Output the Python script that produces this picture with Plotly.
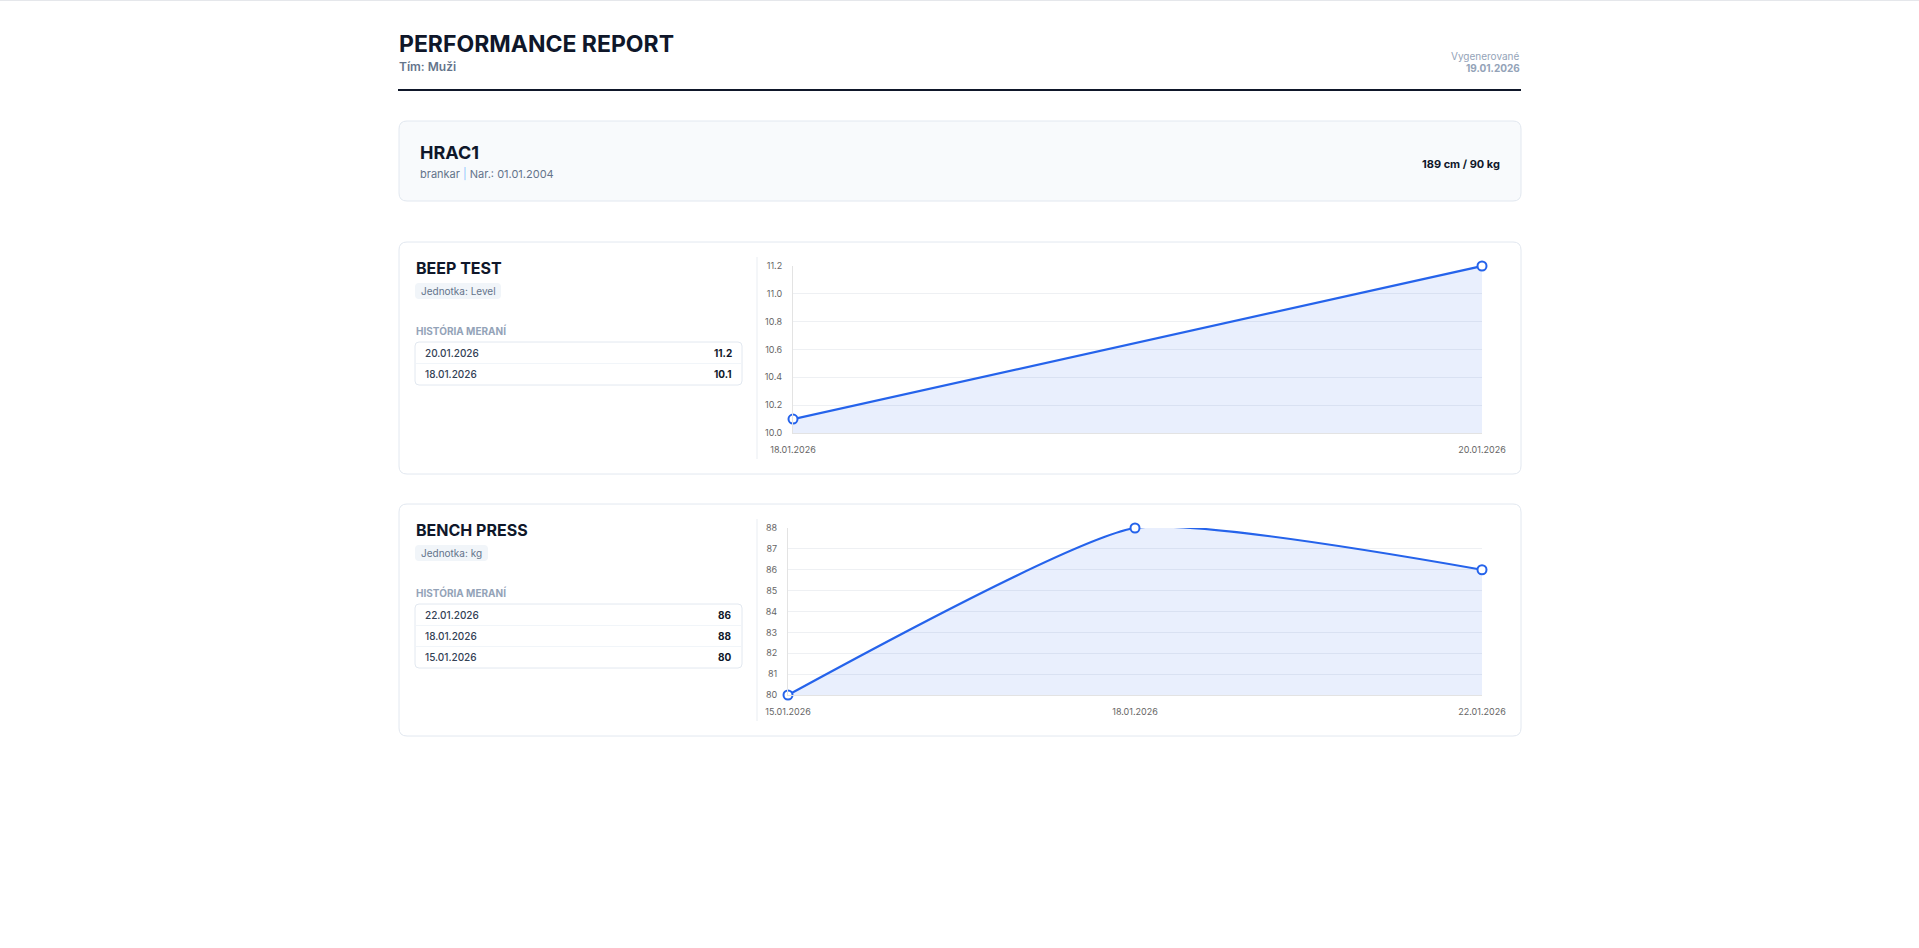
import plotly.graph_objects as go

# ---------------- data ----------------
report_title = "PERFORMANCE REPORT"
team_label = "Tím: Muži"
generated_label = "Vygenerované"
generated_date = "19.01.2026"
player_name = "HRAC1"
player_position = "brankar"
player_birth = "01.01.2004"
player_body = "189 cm / 90 kg"

beep_name = "BEEP TEST"
beep_unit = "Level"
beep_dates = ["18.01.2026", "20.01.2026"]
beep_values = [10.1, 11.2]
beep_ticks = [10.0, 10.2, 10.4, 10.6, 10.8, 11.0, 11.2]

bench_name = "BENCH PRESS"
bench_unit = "kg"
bench_dates = ["15.01.2026", "18.01.2026", "22.01.2026"]
bench_values = [80, 88, 86]
bench_ticks = [80, 81, 82, 83, 84, 85, 86, 87, 88]

# ---------------- layout helpers ----------------
W, H = 1919, 948
FONT = "Inter"
DARK = "#0f172a"
SLATE = "#64748b"
LIGHT = "#94a3b8"
BORDER = "#e2e8f0"
BLUE = "#2563eb"


def X(px):
    return px / W


def Y(py):
    return 1 - py / H


def rrect(x0, y0, x1, y1, r):
    p = [
        f"M{X(x0 + r)},{Y(y0)}", f"L{X(x1 - r)},{Y(y0)}",
        f"Q{X(x1)},{Y(y0)} {X(x1)},{Y(y0 + r)}", f"L{X(x1)},{Y(y1 - r)}",
        f"Q{X(x1)},{Y(y1)} {X(x1 - r)},{Y(y1)}", f"L{X(x0 + r)},{Y(y1)}",
        f"Q{X(x0)},{Y(y1)} {X(x0)},{Y(y1 - r)}", f"L{X(x0)},{Y(y0 + r)}",
        f"Q{X(x0)},{Y(y0)} {X(x0 + r)},{Y(y0)}", "Z",
    ]
    return " ".join(p)


shapes = []
annotations = []


def box(x0, y0, x1, y1, r, fill, line=None, lw=1):
    shapes.append(dict(type="path", xref="paper", yref="paper", path=rrect(x0, y0, x1, y1, r),
                       fillcolor=fill, line=dict(color=line or fill, width=lw if line else 0),
                       layer="below"))


def hline(x0, x1, y, color, w=1):
    shapes.append(dict(type="line", xref="paper", yref="paper", x0=X(x0), x1=X(x1), y0=Y(y), y1=Y(y),
                       line=dict(color=color, width=w), layer="below"))


def vline(x, y0, y1, color, w=1):
    shapes.append(dict(type="line", xref="paper", yref="paper", x0=X(x), x1=X(x), y0=Y(y0), y1=Y(y1),
                       line=dict(color=color, width=w), layer="below"))


def text(x, y, s, size, color, bold=False, anchor="left", weight=None):
    annotations.append(dict(xref="paper", yref="paper", x=X(x), y=Y(y), text=s, showarrow=False,
                            xanchor=anchor, yanchor="middle",
                            font=dict(family=FONT, size=size, color=color,
                                      weight=weight if weight else (700 if bold else 400))))


def fmt(v):
    return f"{v:g}"


# ---------------- header ----------------
hline(0, W, 0.5, "#e5e7eb", 1)
text(397, 44, report_title, 23, DARK, bold=True)
text(397, 67, team_label, 12, SLATE, weight=600)
hline(398, 1521, 90, DARK, 2)
text(1522, 56, generated_label, 10, LIGHT, anchor="right")
text(1522, 68, generated_date, 10, LIGHT, bold=True, anchor="right")

# ---------------- player card ----------------
box(399, 121, 1521, 201, 8, "#f8fafc", BORDER)
text(418, 153, player_name, 18, DARK, bold=True)
text(418, 174, f"{player_position} <span style='color:#93c5fd'>|</span> Nar.: {player_birth}", 11, SLATE)
text(1502, 164, player_body, 11, DARK, bold=True, anchor="right")


# ---------------- metric cards ----------------
def metric_card(top, name, unit, dates, values, badge_w):
    box(399, top, 1521, top + 232, 8, "#ffffff", BORDER)
    text(414, top + 26, name, 16, DARK, bold=True)
    box(415, top + 41, 415 + badge_w, top + 57, 4, "#f1f5f9")
    text(415 + badge_w / 2, top + 49, f"Jednotka: {unit}", 10, SLATE, anchor="center")
    text(414, top + 88, "HISTÓRIA MERANÍ", 10, LIGHT, bold=True)
    n = len(dates)
    row_h = 21
    t0 = top + 100
    box(415, t0, 742, t0 + row_h * n + 1, 4, "#ffffff", BORDER)
    hist = list(zip(dates, values))[::-1]
    for i, (d, v) in enumerate(hist):
        cy = t0 + 11 + i * row_h
        if i > 0:
            hline(416, 741, t0 + i * row_h + 0.5, "#f1f5f9", 1)
        text(423, cy, d, 10, "#334155", weight=500)
        text(734, cy, fmt(v), 10, DARK, bold=True, anchor="right")
    vline(757, top + 15, top + 217, "#e9edf2", 1)


metric_card(242, beep_name, beep_unit, beep_dates, beep_values, 86)
metric_card(504, bench_name, bench_unit, bench_dates, bench_values, 73)

# ---------------- charts ----------------
fig = go.Figure()


def add_chart(idx, dates, values, ticks, x0, x1, y0, y1, fmt_tick, smooth):
    xa = "x" if idx == 1 else f"x{idx}"
    ya = "y" if idx == 1 else f"y{idx}"
    fig.add_trace(go.Scatter(
        x=dates, y=values, xaxis=xa, yaxis=ya, mode="lines+markers",
        line=dict(color=BLUE, width=2.2, shape="spline" if smooth else "linear", smoothing=0.5),
        marker=dict(size=9, color="#ffffff", line=dict(color=BLUE, width=2)),
        fill="tozeroy", fillcolor="rgba(37,99,235,0.1)", cliponaxis=False,
        hoverinfo="x+y", showlegend=False,
    ))
    axis_common = dict(showline=True, linecolor="#e3e3e3", linewidth=1, zeroline=False, ticks="",
                       automargin=False,
                       tickfont=dict(family=FONT, size=9, color="#666666"))
    fig.layout[f"xaxis{'' if idx == 1 else idx}"] = dict(
        domain=[X(x0), X(x1)], anchor=ya, type="category", range=[0, len(dates) - 1],
        showgrid=False, ticklabelstandoff=8, **axis_common)
    fig.layout[f"yaxis{'' if idx == 1 else idx}"] = dict(
        domain=[Y(y1), Y(y0)], anchor=xa, range=[ticks[0], ticks[-1]], tickvals=ticks,
        tickformat=fmt_tick, showgrid=True, gridcolor="#eef0f3", gridwidth=1,
        ticklabelstandoff=8, **axis_common)


add_chart(1, beep_dates, beep_values, beep_ticks, 793, 1482, 266, 433, ".1f", False)
add_chart(2, bench_dates, bench_values, bench_ticks, 788, 1482, 528, 695, "d", True)

fig.update_layout(
    width=W, height=H, margin=dict(l=0, r=0, t=0, b=0, pad=0, autoexpand=False),
    paper_bgcolor="#ffffff", plot_bgcolor="rgba(0,0,0,0)",
    shapes=shapes, annotations=annotations,
    font=dict(family=FONT), hovermode="closest",
)

fig.write_html("out.html", config={"displayModeBar": False},
               post_script="document.body.style.margin='0';document.body.style.overflow='hidden';")
